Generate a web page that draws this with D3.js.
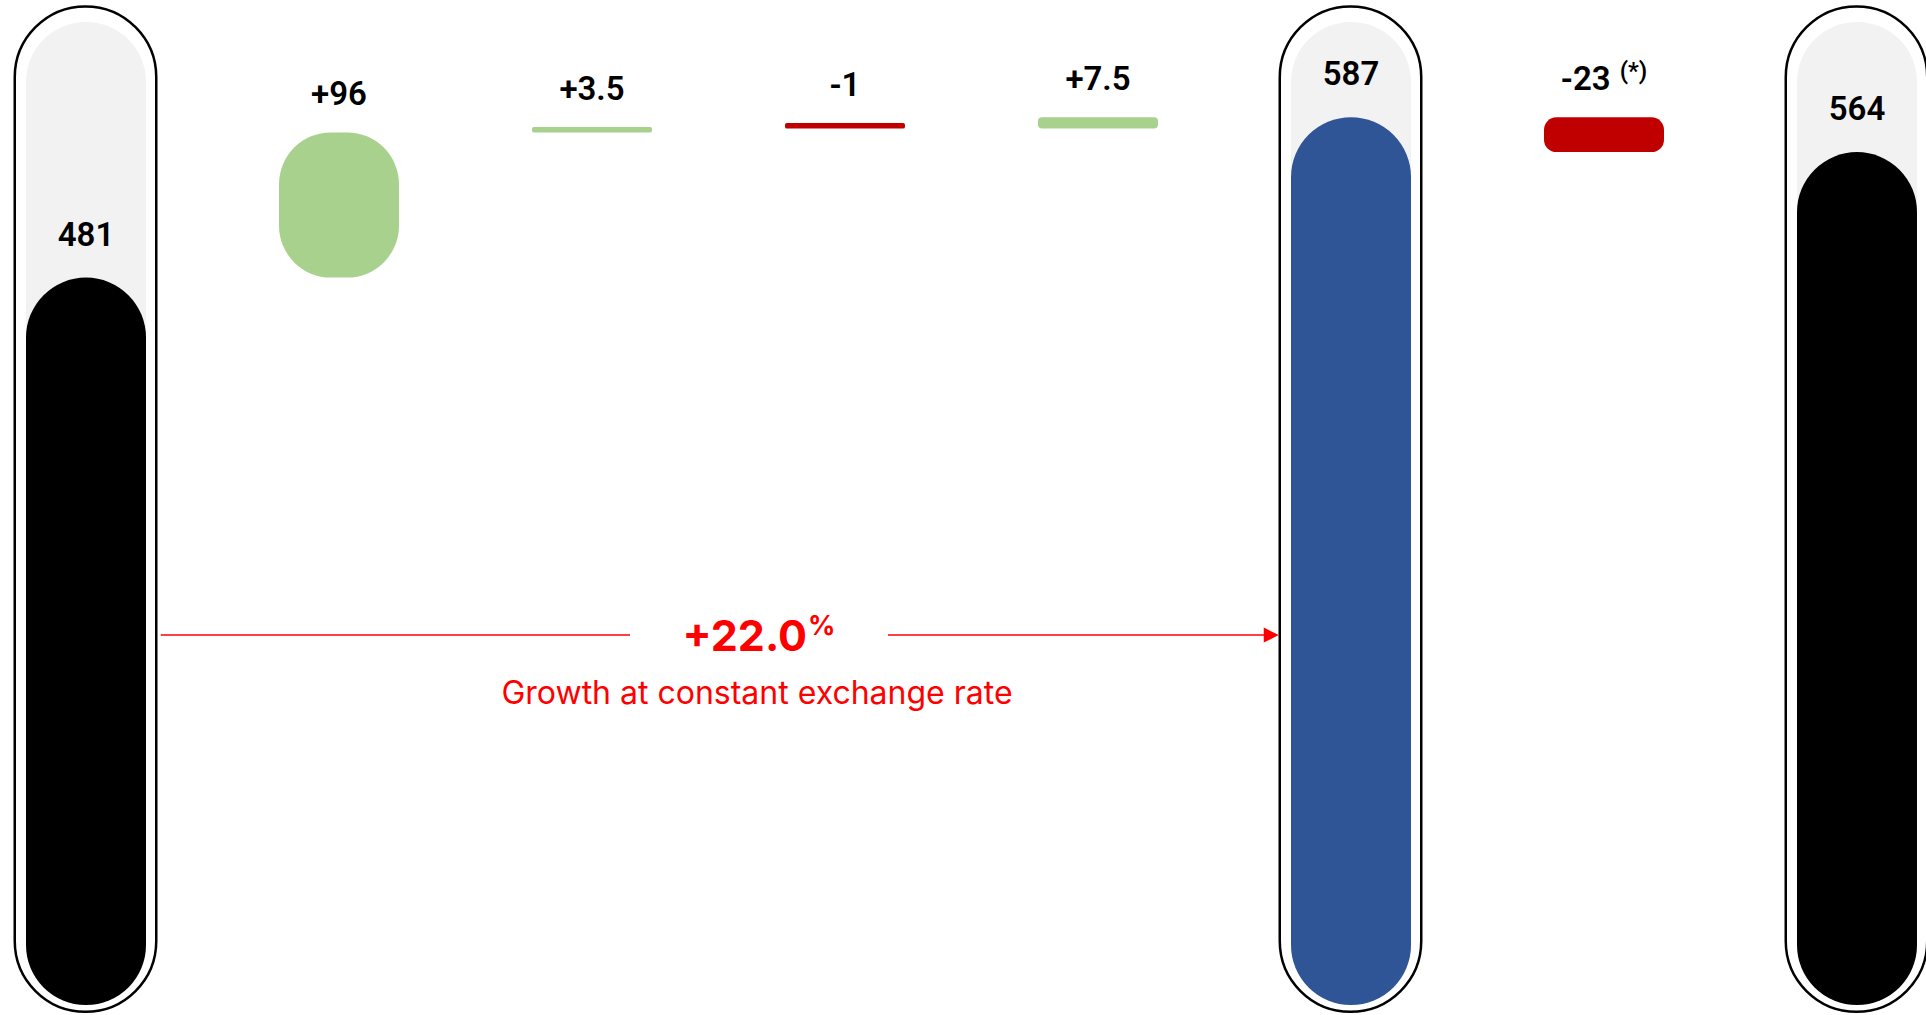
<!DOCTYPE html>
<html><head><meta charset="utf-8">
<script src="https://cdn.jsdelivr.net/npm/d3@7"></script>
<style>html,body{margin:0;padding:0;background:#fff;overflow:hidden}</style>
</head><body>
<svg id="chart" width="1926" height="1015"></svg>
<script>
// ---- data ----
const categories = ["Opening", "Step 1", "Step 2", "Step 3", "Step 4", "Subtotal", "Exchange effect", "Closing"];
const values = [481, 96, 3.5, -1, 7.5, 587, -23, 564];
const kinds = ["total", "delta", "delta", "delta", "delta", "total", "delta", "total"];
const valueLabels = ["481", "+96", "+3.5", "-1", "+7.5", "587", "-23", "564"];
const labelNotes = ["", "", "", "", "", "", "(*)", ""];
const totalColors = ["#000000", "#2f5597", "#000000"];
const growthCaption = "Growth at constant exchange rate";
const trackMax = 650;

// ---- layout ----
const svg = d3.select("#chart");
const x = d3.scalePoint().domain(categories).range([86, 1857]);
const y = d3.scaleLinear().domain([0, trackMax]).range([1005, 22]);
const barW = 120, outerW = 141.5, minH = 5.5;
const posColor = "#a9d18e", negColor = "#c00000";

let running = 0, ti = 0;
const rows = categories.map((c, i) => {
  let lo, hi, color;
  if (kinds[i] === "total") {
    running = values[i]; lo = 0; hi = values[i]; color = totalColors[ti++];
  } else {
    const s = running; running += values[i];
    lo = Math.min(s, running); hi = Math.max(s, running);
    color = values[i] >= 0 ? posColor : negColor;
  }
  return {c, i, kind: kinds[i], lo, hi, color, label: valueLabels[i], note: labelNotes[i]};
});

const totals = rows.filter(d => d.kind === "total");
const deltas = rows.filter(d => d.kind === "delta");

// outer capsules
svg.selectAll("rect.outer").data(totals).join("rect")
  .attr("class", "outer")
  .attr("x", d => x(d.c) - outerW / 2 - 0.5)
  .attr("y", 6.5)
  .attr("width", outerW)
  .attr("height", 1005.25)
  .attr("rx", outerW / 2).attr("ry", outerW / 2)
  .attr("fill", "#fff").attr("stroke", "#000").attr("stroke-width", 2.5);

// grey tracks
svg.selectAll("rect.track").data(totals).join("rect")
  .attr("class", "track")
  .attr("x", d => x(d.c) - barW / 2)
  .attr("y", y(trackMax))
  .attr("width", barW)
  .attr("height", y(0) - y(trackMax))
  .attr("rx", barW / 2).attr("ry", barW / 2)
  .attr("fill", "#f2f2f2");

// total bars
svg.selectAll("rect.total").data(totals).join("rect")
  .attr("class", "total")
  .attr("x", d => x(d.c) - barW / 2)
  .attr("y", d => y(d.hi))
  .attr("width", barW)
  .attr("height", d => y(d.lo) - y(d.hi))
  .attr("rx", barW / 2).attr("ry", barW / 2)
  .attr("fill", d => d.color);

// delta bars
deltas.forEach(d => {
  const h = Math.max(y(d.lo) - y(d.hi), minH);
  d.top = y(d.lo) - h; d.h = h; d.gap = 27;
});
totals.forEach(d => { d.top = y(d.hi); d.gap = 32; });

svg.selectAll("rect.delta").data(deltas).join("rect")
  .attr("class", "delta")
  .attr("x", d => x(d.c) - barW / 2)
  .attr("y", d => d.top)
  .attr("width", barW)
  .attr("height", d => d.h)
  .attr("rx", d => Math.min(barW / 2, d.h / 2.8))
  .attr("ry", d => Math.min(barW / 2, d.h / 2.8))
  .attr("fill", d => d.color);

// value labels
const lab = svg.selectAll("text.val").data(rows).join("text")
  .attr("class", "val")
  .attr("x", d => x(d.c))
  .attr("y", d => d.top - d.gap)
  .attr("text-anchor", "middle")
  .attr("font-family", "Roboto, 'DejaVu Sans', sans-serif")
  .attr("font-weight", 600)
  .attr("font-size", 33)
  .attr("fill", "#000");
lab.append("tspan").text(d => d.label);
lab.filter(d => d.note).append("tspan")
  .attr("dx", 9).attr("dy", -11)
  .attr("font-size", 24)
  .text(d => d.note);

// growth arrow between first total and second total
const a = totals[0], b = totals[1];
const growth = (b.hi / a.hi - 1) * 100;
const arrowY = 635, textCenter = 759, gap = 129;
const x0 = x(a.c) + outerW / 2 + 4, x1 = x(b.c) - outerW / 2 - 1.5;
const red = "#ff0000";
svg.append("line").attr("x1", x0).attr("x2", textCenter - gap)
  .attr("y1", arrowY).attr("y2", arrowY).attr("stroke", red).attr("stroke-width", 1.5);
svg.append("line").attr("x1", textCenter + gap).attr("x2", x1 - 14)
  .attr("y1", arrowY).attr("y2", arrowY).attr("stroke", red).attr("stroke-width", 1.5);
svg.append("path")
  .attr("d", `M${x1 - 15},${arrowY - 7.5}L${x1},${arrowY}L${x1 - 15},${arrowY + 7.5}Z`)
  .attr("fill", red);

const g = svg.append("text")
  .attr("x", textCenter).attr("y", 651)
  .attr("text-anchor", "middle")
  .attr("font-family", "Inter, Roboto, sans-serif")
  .attr("font-weight", 700)
  .attr("font-size", 43)
  .attr("fill", red);
g.append("tspan").text(d3.format("+.1f")(growth));
g.append("tspan").attr("dy", -16).attr("dx", 1).attr("font-size", 27).text("%");

svg.append("text")
  .attr("x", 757).attr("y", 704)
  .attr("text-anchor", "middle")
  .attr("font-family", "Inter, Roboto, sans-serif")
  .attr("font-weight", 400)
  .attr("font-size", 32)
  .attr("fill", red)
  .text(growthCaption);
</script>
</body></html>
